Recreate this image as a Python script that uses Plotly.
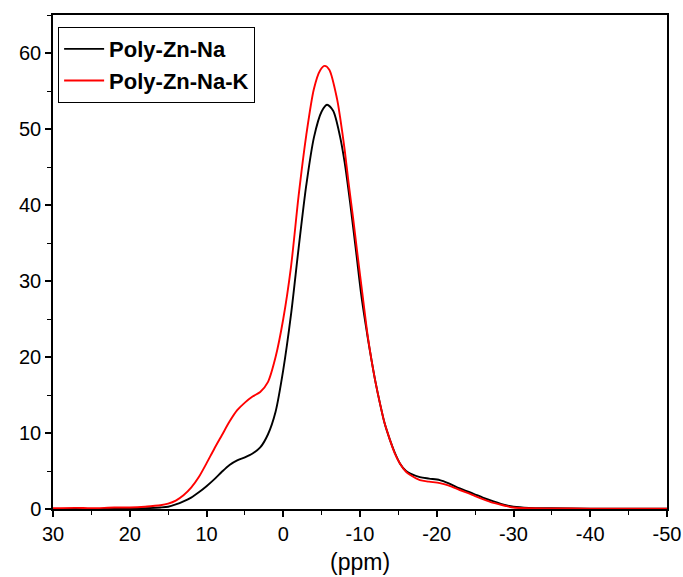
import plotly.graph_objects as go

# 23Na MAS NMR spectra (chemical shift in ppm, intensity)
ppm_na = [30, 25, 20, 18, 16, 15, 14, 13, 12, 11, 10, 9, 8, 7, 6, 5, 4, 3, 2, 1, 0,
          -1, -2, -3, -4, -5, -5.7, -6.5, -7.4, -8, -8.7, -9.5, -10.2, -11, -11.5,
          -12, -12.6, -13.2, -13.9, -14.5, -15.2, -16, -16.5, -17.8, -19, -20.4,
          -21.5, -23, -24.8, -26, -27.4, -29, -30, -32, -35, -40, -45, -50]
int_na = [0.0, 0.0, 0.05, 0.1, 0.2, 0.3, 0.6, 1.0, 1.5, 2.2, 3.0, 3.9, 4.9, 5.8, 6.4,
          6.8, 7.3, 8.1, 9.8, 12.8, 18.3, 25.5, 34.3, 42.6, 48.9, 52.3, 53.2, 52.4,
          49.0, 45.6, 40.4, 33.8, 27.9, 22.6, 19.6, 16.8, 13.9, 11.3, 9.1, 7.5, 6.0,
          5.0, 4.7, 4.2, 4.0, 3.8, 3.4, 2.7, 2.0, 1.5, 1.0, 0.5, 0.3, 0.15, 0.1, 0.05,
          0.05, 0.05]

ppm_nak = [30, 27, 25, 22, 20, 18, 17, 16, 15, 14, 13, 12, 11, 10, 9, 8, 7, 6, 5, 4,
           3, 2, 1, 0, -1, -2, -3, -4, -4.8, -5.4, -6, -7, -7.4, -8, -8.5, -9.1,
           -9.6, -10.4, -11, -11.5, -12, -12.6, -13.2, -13.9, -14.5, -15.2, -16,
           -16.5, -17.8, -19, -20.4, -21.5, -23, -24.8, -26, -27.4, -29, -30, -32,
           -35, -40, -45, -50]
int_nak = [0.1, 0.15, 0.1, 0.2, 0.2, 0.3, 0.4, 0.5, 0.7, 1.1, 1.8, 2.8, 4.2, 6.0, 7.9,
           9.7, 11.5, 13.0, 14.0, 14.8, 15.4, 16.7, 20.0, 25.0, 31.8, 41.2, 49.2,
           55.3, 57.7, 58.3, 57.8, 54.0, 51.6, 47.3, 43.0, 38.3, 34.1, 27.6, 22.8,
           19.6, 16.8, 13.9, 11.3, 9.1, 7.4, 6.0, 4.9, 4.5, 3.8, 3.6, 3.4, 3.1, 2.5,
           1.8, 1.3, 0.8, 0.4, 0.2, 0.1, 0.08, 0.05, 0.05, 0.05]

x_ticks = [30, 20, 10, 0, -10, -20, -30, -40, -50]
y_ticks = [0, 10, 20, 30, 40, 50, 60]
x_title = "(ppm)"

font_family = "Arial, Liberation Sans, sans-serif"

fig = go.Figure()
fig.add_trace(go.Scatter(x=ppm_na, y=int_na, mode="lines", name="Poly-Zn-Na",
                         line=dict(color="black", width=1.9, shape="spline", smoothing=0.8)))
fig.add_trace(go.Scatter(x=ppm_nak, y=int_nak, mode="lines", name="Poly-Zn-Na-K",
                         line=dict(color="#ff0000", width=1.9, shape="spline", smoothing=0.8)))

axis_common = dict(
    showgrid=False, zeroline=False, automargin=False,
    showline=True, linecolor="black", linewidth=1.5, mirror=True,
    ticks="outside", ticklen=6, tickwidth=1.5, tickcolor="black",
    tickfont=dict(family=font_family, size=20, color="black"),
)

fig.update_xaxes(
    range=[30, -50], tickvals=x_ticks, ticktext=[str(v) for v in x_ticks],
    minor=dict(dtick=5, tick0=0, ticks="outside", ticklen=4, tickwidth=1.2, tickcolor="black"),
    **axis_common,
)
fig.update_yaxes(
    range=[0, 65], tickvals=y_ticks, ticktext=[str(v) for v in y_ticks],
    minor=dict(dtick=5, tick0=0, ticks="outside", ticklen=4, tickwidth=1.2, tickcolor="black"),
    **axis_common,
)

# x-axis title placed below the tick labels
fig.add_annotation(
    text=x_title, xref="paper", yref="paper", x=0.5, y=-0.107,
    xanchor="center", yanchor="middle", showarrow=False,
    font=dict(family=font_family, size=23, color="black"),
)

fig.update_layout(
    width=683, height=577,
    margin=dict(l=53, r=16, t=15, b=68),
    paper_bgcolor="white", plot_bgcolor="white",
    showlegend=True,
    legend=dict(
        x=0.008, y=0.976, xanchor="left", yanchor="top",
        bgcolor="white", bordercolor="black", borderwidth=1.2,
        font=dict(family=font_family, size=22, color="black", weight="bold"),
        tracegroupgap=0, itemwidth=40,
    ),
)

fig.write_html("out.html")
